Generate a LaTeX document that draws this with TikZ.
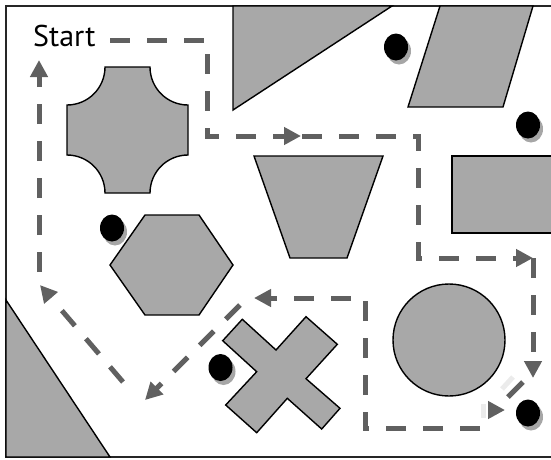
\documentclass[tikz,border=0pt]{standalone}
\usepackage{fontspec}
\setmainfont{PT Sans}
\usetikzlibrary{arrows.meta}
\definecolor{shapegray}{RGB}{168,168,168}
\definecolor{routegray}{RGB}{96,96,96}
\tikzset{
  obst/.style={fill=shapegray, draw=black, line width=1.4pt, line join=miter},
  route/.style={draw=routegray, line width=5pt, dash pattern=on 20pt off 17pt},
  routetip/.style={-{Triangle[length=17pt,width=17pt]}},
  ghost/.style={draw=black!8, line width=5pt},
  target/.style={fill=black},
  targetshadow/.style={fill=black!35},
}
\newcommand{\targetdot}[3]{%
  \fill[targetshadow] (#1+3,#2+4) ellipse[x radius=12pt, y radius=13.5pt];
  \fill[target] (#1,#2) ellipse[x radius=12pt, y radius=13.5pt];
  \coordinate (#3) at (#1,#2);
}
\begin{document}
\begin{tikzpicture}[x=1pt,y=-1pt]
\useasboundingbox (0,0) rectangle (551,459);
\begin{scope}
\clip (0,0) rectangle (551,459);
% frame
\draw[line width=2pt, draw=black!85] (6,6) rectangle (570,457);
% obstacles
\path[obst] (233,6) -- (392,6) -- (233,110) -- cycle;
\path[obst] (440,6) -- (533,6) -- (503,107) -- (408,107) -- cycle;
\path[obst] (452,156) rectangle (570,233);
\path[obst] (105,67) -- (150,67) arc[start angle=180, end angle=270, radius=38pt]
  -- (188,155) arc[start angle=90, end angle=180, radius=38pt]
  -- (105,193) arc[start angle=0, end angle=90, radius=38pt]
  -- (67,105) arc[start angle=-90, end angle=0, radius=38pt] -- cycle;
\path[obst] (254,156) -- (383,156) -- (347,258) -- (290,258) -- cycle;
\path[obst] (110,265) -- (145,215) -- (199,215) -- (233,265) -- (199,315) -- (145,315) -- cycle;
\path[obst] (449,340) circle[radius=56pt];
\path[obst] (6,300) -- (110,457) -- (6,457) -- cycle;
\path[obst] (222.7,340.7) -- (242.3,319.3) -- (276,350) -- (306,316.7) -- (337.3,344.3)
  -- (306,378.7) -- (340,408.3) -- (321.7,429) -- (287.3,398.3) -- (256.7,432.7)
  -- (225.7,405) -- (256.7,371.7) -- cycle;
\end{scope}
% targets
\targetdot{396}{47}{t1}
\targetdot{528}{125}{t2}
\targetdot{112}{228}{t3}
\targetdot{220.5}{367.5}{t4}
\targetdot{528}{413}{t5}
% start label
\node[anchor=base west, inner sep=0pt, font=\fontsize{30}{30}\selectfont] (start) at (33,46) {Start};
% route
\coordinate (a0) at (110,40);
\coordinate (a1) at (207,40);
\coordinate (a2) at (207,136);
\coordinate (a3) at (301,136);
\coordinate (b0) at (302,136);
\coordinate (b1) at (418,136);
\coordinate (b2) at (418,258);
\coordinate (b3) at (533,258);
\coordinate (c1) at (533,378);
\coordinate (d0) at (523,382);
\coordinate (d1) at (508,397);
\coordinate (e0) at (488,410);
\coordinate (e1) at (505,410);
\coordinate (f0) at (480,428);
\coordinate (f1) at (365,428);
\coordinate (f2) at (365,298);
\coordinate (f3) at (254,298);
\coordinate (g0) at (240,305);
\coordinate (g1) at (145,400);
\coordinate (h0) at (123,382);
\coordinate (h1) at (40,285);
\coordinate (k0) at (39,272);
\coordinate (k1) at (39,60);
% faint ghost marks
\draw[ghost] (513,377) -- (502,389);
\draw[ghost] (483,404) -- (483,418);
\draw[route, routetip] (a0) -- (a1) -- (a2) -- (a3);
\draw[route, routetip] (b0) -- (b1) -- (b2) -- (b3);
\draw[route, routetip] (b3) -- (c1);
\draw[route, dash pattern=] (d0) -- (d1);
\draw[route, routetip, dash pattern=] (e0) -- (e1);
\draw[route, routetip] (f0) -- (f1) -- (f2) -- (f3);
\draw[route, routetip] (g0) -- (g1);
\draw[route, routetip] (h0) -- (h1);
\draw[route, routetip] (k0) -- (k1);
\end{tikzpicture}
\end{document}
